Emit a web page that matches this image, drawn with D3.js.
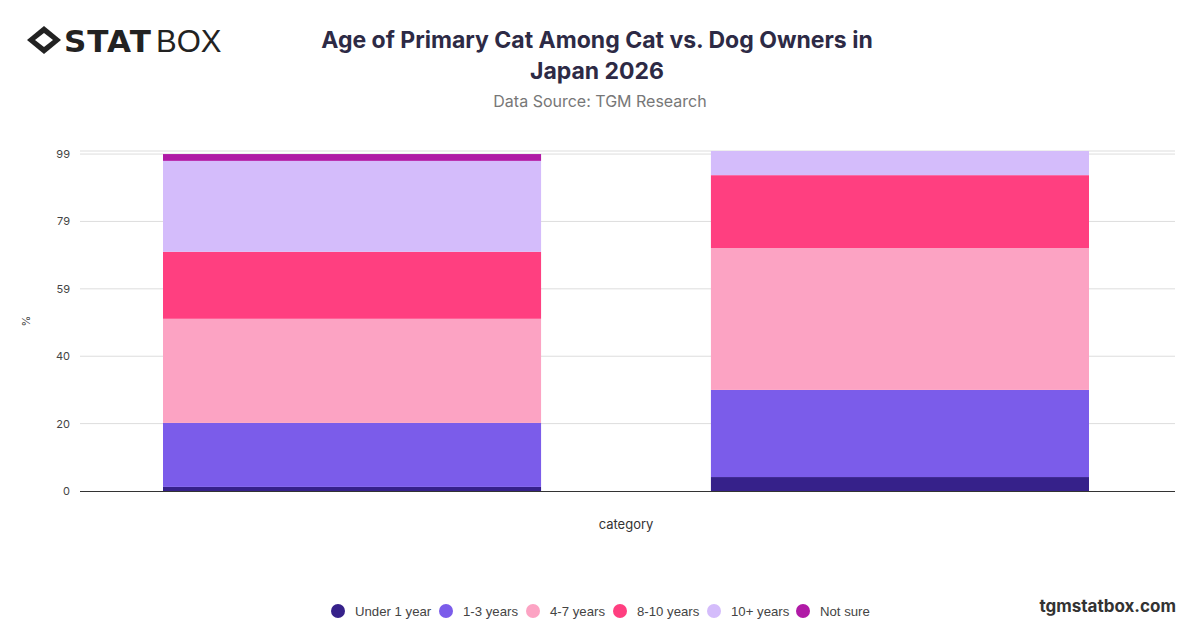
<!DOCTYPE html><html><head><meta charset="utf-8"><script src="https://cdn.jsdelivr.net/npm/d3@7"></script>
<style>body{margin:0;background:#fff;font-family:"Inter","Noto Sans",sans-serif}</style></head><body><svg id="c" width="1200" height="628"></svg>
<script>
const categories=["Cat owners","Dog owners"];
const seriesNames=["Under 1 year","1-3 years","4-7 years","8-10 years","10+ years","Not sure"];
const colors=["#36218a","#7b5cea","#fca3c3","#ff3f80","#d4bcfb","#b01aa6"];
const underOne=[1.2,4.1];
const oneToThree=[18.8,25.6];
const fourToSeven=[30.6,41.7];
const eightToTen=[19.7,21.4];
const tenPlus=[26.7,7.1];
const notSure=[2,0];
const tickValues=[0,19.8,39.6,59.4,79.2,99];
const tickLabels=["0","20","40","59","79","99"];
const vals=[underOne,oneToThree,fourToSeven,eightToTen,tenPlus,notSure];
const rows=categories.map((c,i)=>{const o={cat:c};seriesNames.forEach((s,j)=>o[s]=vals[j][i]);return o;});
const svg=d3.select("#c");
const L=70,R=1175,T=151,B=491;
const x=d3.scaleBand().domain(categories).range([163,1089]).paddingInner(0.31).paddingOuter(0);
const y=d3.scaleLinear().domain([0,99.9]).range([B,T]);
svg.append("text").attr("x",597).attr("y",48).attr("text-anchor","middle").attr("font-size",23).attr("font-weight",700).attr("fill","#2d2a45").text("Age of Primary Cat Among Cat vs. Dog Owners in");
svg.append("text").attr("x",597).attr("y",79).attr("text-anchor","middle").attr("font-size",23).attr("font-weight",700).attr("fill","#2d2a45").text("Japan 2026");
svg.append("text").attr("x",600).attr("y",107).attr("text-anchor","middle").attr("font-size",16).attr("fill","#777").text("Data Source: TGM Research");
const lg=svg.append("g").attr("transform","translate(44,40)");
lg.append("path").attr("d","M-17,0 L0,-14 L17,0 L0,14Z").attr("fill","#222");
lg.append("path").attr("d","M-9,0 L0,-7 L9,0 L0,7Z").attr("fill","#fff");
svg.append("text").attr("x",64).attr("y",52).attr("font-size",31).attr("font-weight",900).attr("fill","#222").attr("font-family","DejaVu Sans").attr("letter-spacing",1).text("STAT");
svg.append("text").attr("x",156).attr("y",52).attr("font-size",31).attr("font-weight",300).attr("fill","#222").attr("font-family","Liberation Sans").text("BOX");
svg.append("g").selectAll("line").data(tickValues.slice(1).concat([99.9])).join("line").attr("x1",L+10).attr("x2",R).attr("y1",d=>y(d)).attr("y2",d=>y(d)).attr("stroke","#ddd");
svg.append("g").selectAll("text").data(tickValues).join("text").attr("x",L).attr("y",d=>y(d)+4).attr("text-anchor","end").attr("font-size",11).attr("fill","#444").text((d,i)=>tickLabels[i]);
svg.append("text").attr("transform","translate(30,321) rotate(-90)").attr("text-anchor","middle").attr("font-size",11).attr("fill","#444").text("%");
const stack=d3.stack().keys(seriesNames)(rows);
svg.append("g").selectAll("g").data(stack).join("g").attr("fill",(d,i)=>colors[i])
 .selectAll("rect").data(d=>d).join("rect").attr("x",d=>x(d.data.cat)).attr("width",x.bandwidth())
 .attr("y",d=>y(d[1])).attr("height",d=>y(d[0])-y(d[1]));
svg.append("line").attr("x1",L+10).attr("x2",R).attr("y1",B+0.5).attr("y2",B+0.5).attr("stroke","#333");
svg.append("text").attr("x",626).attr("y",529).attr("text-anchor","middle").attr("font-size",13).attr("fill","#333").text("category");
const lx=[338,446,533,620,714,803];
const lgd=svg.append("g").selectAll("g").data(seriesNames).join("g").attr("transform",(d,i)=>`translate(${lx[i]},611)`);
lgd.append("circle").attr("r",7).attr("fill",(d,i)=>colors[i]);
lgd.append("text").attr("x",17).attr("y",5).attr("font-size",13.2).attr("font-family","Liberation Sans").attr("fill","#444").text(d=>d);
svg.append("text").attr("x",1176).attr("y",612).attr("text-anchor","end").attr("font-size",17).attr("font-weight",700).attr("fill","#333").text("tgmstatbox.com");
</script></body></html>
